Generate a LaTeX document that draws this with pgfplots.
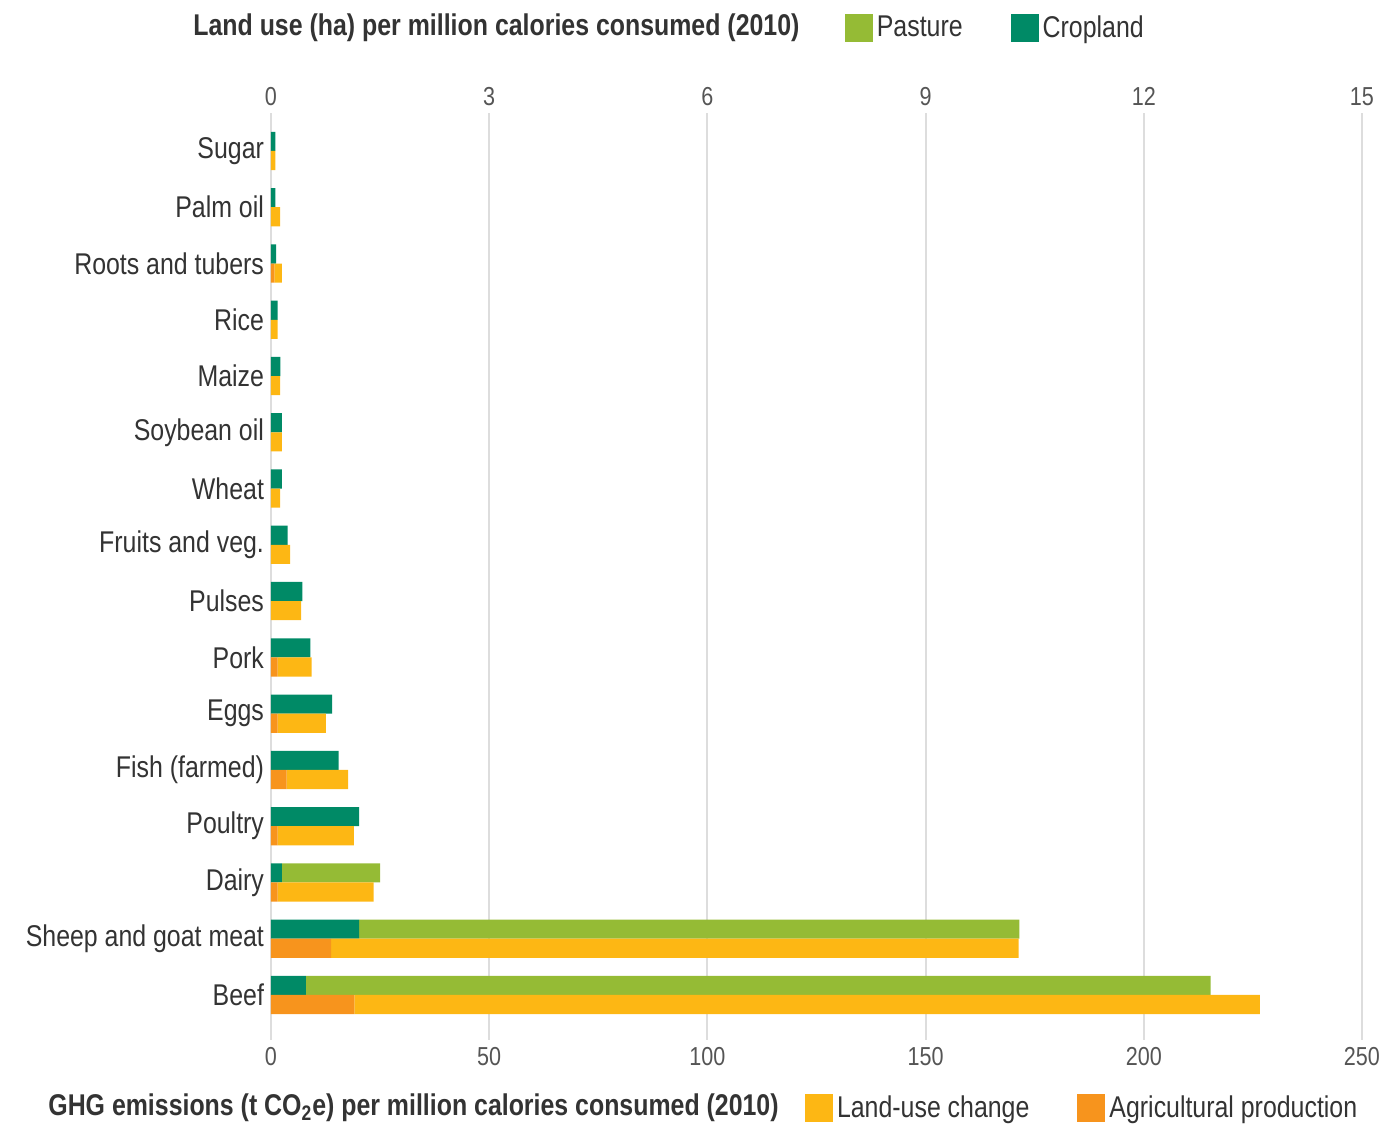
\documentclass[border=0pt]{standalone}
\usepackage{pgfplots}
\pgfplotsset{compat=1.18}
\usepackage{pgfplotstable}
\usepackage{fontspec}
\setmainfont{Liberation Sans}[FakeStretch=0.83]
\definecolor{pasture}{HTML}{95BB35}
\definecolor{cropland}{HTML}{008A66}
\definecolor{luc}{HTML}{FDB714}
\definecolor{agr}{HTML}{F7941D}
\definecolor{txt}{HTML}{333333}
\definecolor{ticktxt}{HTML}{555555}
\definecolor{gridc}{HTML}{DDDDDD}

% idx: 0 = Beef ... 15 = Sugar
\pgfplotstableread{
idx crop pasture agr luc
0  0.48 12.44 19.1 207.5
1  1.21 9.08  13.8 157.5
2  0.15 1.35  1.5  22.0
3  1.21 0     1.5  17.5
4  0.93 0     3.6  14.1
5  0.84 0     1.5  11.1
6  0.54 0     1.5  7.8
7  0.43 0     0    6.9
8  0.23 0     0    4.4
9  0.15 0     0    2.1
10 0.15 0     0    2.5
11 0.13 0     0    2.1
12 0.09 0     0    1.5
13 0.07 0     0.8  1.7
14 0.06 0     0    2.1
15 0.06 0     0    1.0
}\data

\pgfplotsset{
  base/.style={
    width=545.5pt, height=463.5pt, scale only axis,
    at={(0pt,0pt)}, anchor=south west,
    xbar stacked, bar width=0.34,
    ymin=-0.8, ymax=15.675,
    axis line style={draw=none}, tick style={draw=none},
    /pgf/number format/assume math mode=true,
    xticklabel style={font=\fontsize{13}{15}\selectfont, text=ticktxt},
    legend image code/.code={\fill[##1, draw=none] (0pt,-7pt) rectangle (14pt,7pt);},
    legend style={draw=none, fill=none, inner sep=0pt, outer sep=0pt,
      font=\fontsize{15}{18}\selectfont, text=txt, legend columns=-1,
      /tikz/every even column/.append style={column sep=22pt}},
  }
}

\begin{document}
\begin{tikzpicture}
\useasboundingbox (-135.5pt,-43pt) rectangle (559pt,520pt);
% Land use axis (top)
\begin{axis}[base,
  xmin=0, xmax=15, xtick={0,3,...,15},
  xticklabel pos=upper,
  xmajorgrids, grid style={gridc, line width=1pt},
  bar shift=0.17,
  ytick={0,...,15},
  yticklabels={Beef,Sheep and goat meat,Dairy,Poultry,Fish (farmed),Eggs,Pork,Pulses,Fruits and veg.,Wheat,Soybean oil,Maize,Rice,Roots and tubers,Palm oil,Sugar},
  yticklabel style={font=\fontsize{15}{18}\selectfont, text=txt},
  legend style={at={(0.526,1.0917)}, anchor=west},
]
\addlegendimage{fill=pasture, draw=none}\addlegendentry{Pasture}
\addlegendimage{fill=cropland, draw=none}\addlegendentry{Cropland}
\addplot[fill=cropland, draw=none, forget plot] table[x=crop, y=idx] {\data};
\addplot[fill=pasture, draw=none, forget plot] table[x=pasture, y=idx] {\data};
\end{axis}
% GHG axis (bottom)
\begin{axis}[base,
  xmin=0, xmax=250, xtick={0,50,...,250},
  xticklabel pos=lower,
  bar shift=-0.17,
  ytick=\empty,
  legend style={at={(0.4895,-0.0734)}, anchor=west},
]
\addlegendimage{fill=luc, draw=none}\addlegendentry{Land-use change}
\addlegendimage{fill=agr, draw=none}\addlegendentry{Agricultural production}
\addplot[fill=agr, draw=none, forget plot] table[x=agr, y=idx] {\data};
\addplot[fill=luc, draw=none, forget plot] table[x=luc, y=idx] {\data};
\end{axis}
\node[anchor=west, inner sep=0pt, text=txt, font=\fontsize{15}{18}\selectfont\bfseries] at (-39pt,506pt) {Land use (ha) per million calories consumed (2010)};
\node[anchor=west, inner sep=0pt, text=txt, font=\fontsize{15}{18}\selectfont\bfseries] at (-111.5pt,-34pt) {GHG emissions (t CO\textsubscript{2}e) per million calories consumed (2010)};
\end{tikzpicture}
\end{document}
